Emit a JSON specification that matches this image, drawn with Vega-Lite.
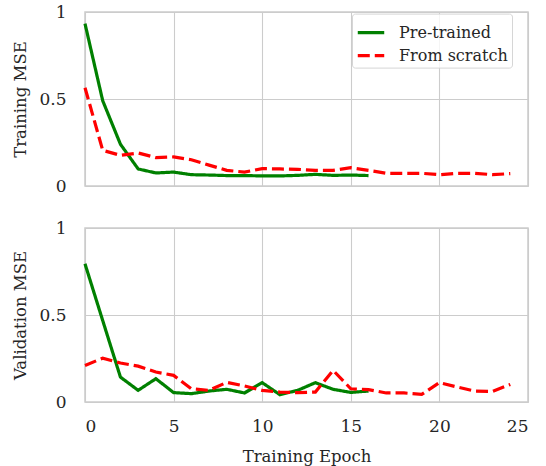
{
  "$schema": "https://vega.github.io/schema/vega-lite/v6.json",
  "padding": {"left": 12, "top": 2, "right": 5, "bottom": 0},
  "background": "white",
  "config": {
    "font": "DejaVu Serif",
    "view": {"stroke": "#cccccc", "strokeWidth": 1.5},
    "axis": {
      "grid": true, "gridColor": "#cccccc", "gridWidth": 1.1,
      "domain": false, "ticks": false, "tickSize": 0,
      "labelFont": "DejaVu Serif", "titleFont": "DejaVu Serif",
      "labelFontSize": 17, "labelColor": "#262626", "labelPadding": 19,
      "titleFontSize": 16.5, "titleFontWeight": "normal", "titleColor": "#262626"
    },
    "legend": {"labelFont": "DejaVu Serif"},
    "concat": {"spacing": 23}
  },
  "datasets": {
    "train": [
      {"model": "Pre-trained", "epoch": 0, "mse": 0.933},
      {"model": "Pre-trained", "epoch": 1, "mse": 0.49},
      {"model": "Pre-trained", "epoch": 2, "mse": 0.24},
      {"model": "Pre-trained", "epoch": 3, "mse": 0.098},
      {"model": "Pre-trained", "epoch": 4, "mse": 0.075},
      {"model": "Pre-trained", "epoch": 5, "mse": 0.08},
      {"model": "Pre-trained", "epoch": 6, "mse": 0.065},
      {"model": "Pre-trained", "epoch": 7, "mse": 0.063},
      {"model": "Pre-trained", "epoch": 8, "mse": 0.06},
      {"model": "Pre-trained", "epoch": 9, "mse": 0.06},
      {"model": "Pre-trained", "epoch": 10, "mse": 0.058},
      {"model": "Pre-trained", "epoch": 11, "mse": 0.058},
      {"model": "Pre-trained", "epoch": 12, "mse": 0.061},
      {"model": "Pre-trained", "epoch": 13, "mse": 0.067},
      {"model": "Pre-trained", "epoch": 14, "mse": 0.061},
      {"model": "Pre-trained", "epoch": 15, "mse": 0.063},
      {"model": "Pre-trained", "epoch": 16, "mse": 0.06},
      {"model": "From scratch", "epoch": 0, "mse": 0.565},
      {"model": "From scratch", "epoch": 1, "mse": 0.205},
      {"model": "From scratch", "epoch": 2, "mse": 0.176},
      {"model": "From scratch", "epoch": 3, "mse": 0.19},
      {"model": "From scratch", "epoch": 4, "mse": 0.163},
      {"model": "From scratch", "epoch": 5, "mse": 0.167},
      {"model": "From scratch", "epoch": 6, "mse": 0.151},
      {"model": "From scratch", "epoch": 7, "mse": 0.12},
      {"model": "From scratch", "epoch": 8, "mse": 0.09},
      {"model": "From scratch", "epoch": 9, "mse": 0.08},
      {"model": "From scratch", "epoch": 10, "mse": 0.1},
      {"model": "From scratch", "epoch": 11, "mse": 0.098},
      {"model": "From scratch", "epoch": 12, "mse": 0.096},
      {"model": "From scratch", "epoch": 13, "mse": 0.09},
      {"model": "From scratch", "epoch": 14, "mse": 0.09},
      {"model": "From scratch", "epoch": 15, "mse": 0.105},
      {"model": "From scratch", "epoch": 16, "mse": 0.09},
      {"model": "From scratch", "epoch": 17, "mse": 0.073},
      {"model": "From scratch", "epoch": 18, "mse": 0.073},
      {"model": "From scratch", "epoch": 19, "mse": 0.073},
      {"model": "From scratch", "epoch": 20, "mse": 0.065},
      {"model": "From scratch", "epoch": 21, "mse": 0.073},
      {"model": "From scratch", "epoch": 22, "mse": 0.073},
      {"model": "From scratch", "epoch": 23, "mse": 0.065},
      {"model": "From scratch", "epoch": 24, "mse": 0.071}
    ],
    "valid": [
      {"model": "Pre-trained", "epoch": 0, "mse": 0.794},
      {"model": "Pre-trained", "epoch": 1, "mse": 0.468},
      {"model": "Pre-trained", "epoch": 2, "mse": 0.143},
      {"model": "Pre-trained", "epoch": 3, "mse": 0.067},
      {"model": "Pre-trained", "epoch": 4, "mse": 0.134},
      {"model": "Pre-trained", "epoch": 5, "mse": 0.054},
      {"model": "Pre-trained", "epoch": 6, "mse": 0.048},
      {"model": "Pre-trained", "epoch": 7, "mse": 0.063},
      {"model": "Pre-trained", "epoch": 8, "mse": 0.073},
      {"model": "Pre-trained", "epoch": 9, "mse": 0.052},
      {"model": "Pre-trained", "epoch": 10, "mse": 0.111},
      {"model": "Pre-trained", "epoch": 11, "mse": 0.042},
      {"model": "Pre-trained", "epoch": 12, "mse": 0.067},
      {"model": "Pre-trained", "epoch": 13, "mse": 0.111},
      {"model": "Pre-trained", "epoch": 14, "mse": 0.073},
      {"model": "Pre-trained", "epoch": 15, "mse": 0.055},
      {"model": "Pre-trained", "epoch": 16, "mse": 0.063},
      {"model": "From scratch", "epoch": 0, "mse": 0.21},
      {"model": "From scratch", "epoch": 1, "mse": 0.252},
      {"model": "From scratch", "epoch": 2, "mse": 0.224},
      {"model": "From scratch", "epoch": 3, "mse": 0.206},
      {"model": "From scratch", "epoch": 4, "mse": 0.172},
      {"model": "From scratch", "epoch": 5, "mse": 0.153},
      {"model": "From scratch", "epoch": 6, "mse": 0.076},
      {"model": "From scratch", "epoch": 7, "mse": 0.067},
      {"model": "From scratch", "epoch": 8, "mse": 0.113},
      {"model": "From scratch", "epoch": 9, "mse": 0.092},
      {"model": "From scratch", "epoch": 10, "mse": 0.067},
      {"model": "From scratch", "epoch": 11, "mse": 0.057},
      {"model": "From scratch", "epoch": 12, "mse": 0.054},
      {"model": "From scratch", "epoch": 13, "mse": 0.057},
      {"model": "From scratch", "epoch": 14, "mse": 0.182},
      {"model": "From scratch", "epoch": 15, "mse": 0.076},
      {"model": "From scratch", "epoch": 16, "mse": 0.071},
      {"model": "From scratch", "epoch": 17, "mse": 0.052},
      {"model": "From scratch", "epoch": 18, "mse": 0.052},
      {"model": "From scratch", "epoch": 19, "mse": 0.044},
      {"model": "From scratch", "epoch": 20, "mse": 0.111},
      {"model": "From scratch", "epoch": 21, "mse": 0.086},
      {"model": "From scratch", "epoch": 22, "mse": 0.063},
      {"model": "From scratch", "epoch": 23, "mse": 0.061},
      {"model": "From scratch", "epoch": 24, "mse": 0.101}
    ]
  },
  "vconcat": [
    {
      "width": 443, "height": 174,
      "data": {"name": "train"},
      "mark": {"type": "line", "strokeWidth": 3.2},
      "encoding": {
        "x": {"field": "epoch", "type": "quantitative", "scale": {"domain": [0, 25], "nice": false},
              "axis": {"values": [0, 5, 10, 15, 20, 25], "labels": false, "title": null}},
        "y": {"field": "mse", "type": "quantitative", "scale": {"domain": [0, 1], "nice": false},
              "axis": {"values": [0, 0.5, 1], "format": "~g", "title": "Training MSE", "titlePadding": 10}},
        "color": {"field": "model", "type": "nominal",
                  "scale": {"domain": ["Pre-trained", "From scratch"], "range": ["green", "red"]},
                  "legend": {"orient": "none", "legendX": 267, "legendY": 1.6, "title": null,
                             "symbolType": "stroke", "symbolSize": 700, "symbolStrokeWidth": 3.2,
                             "labelFont": "DejaVu Serif",
                             "labelFontSize": 16, "labelColor": "#262626", "labelOffset": 13,
                             "padding": 4, "rowPadding": 0, "fillColor": "rgba(255,255,255,0.8)",
                             "strokeColor": "#d6d6d6", "cornerRadius": 3}},
        "strokeDash": {"field": "model", "type": "nominal",
                       "scale": {"domain": ["Pre-trained", "From scratch"], "range": [[1, 0], [12, 5]]}}
      }
    },
    {
      "width": 443, "height": 174,
      "data": {"name": "valid"},
      "mark": {"type": "line", "strokeWidth": 3.2},
      "encoding": {
        "x": {"field": "epoch", "type": "quantitative", "scale": {"domain": [0, 25], "nice": false},
              "axis": {"values": [0, 5, 10, 15, 20, 25], "format": "d", "title": "Training Epoch", "labelPadding": 16, "titlePadding": 14}},
        "y": {"field": "mse", "type": "quantitative", "scale": {"domain": [0, 1], "nice": false},
              "axis": {"values": [0, 0.5, 1], "format": "~g", "title": "Validation MSE", "titlePadding": 10}},
        "color": {"field": "model", "type": "nominal",
                  "scale": {"domain": ["Pre-trained", "From scratch"], "range": ["green", "red"]},
                  "legend": null},
        "strokeDash": {"field": "model", "type": "nominal",
                       "scale": {"domain": ["Pre-trained", "From scratch"], "range": [[1, 0], [12, 5]]},
                       "legend": null}
      }
    }
  ],
  "resolve": {"legend": {"color": "independent", "strokeDash": "independent"}}
}
